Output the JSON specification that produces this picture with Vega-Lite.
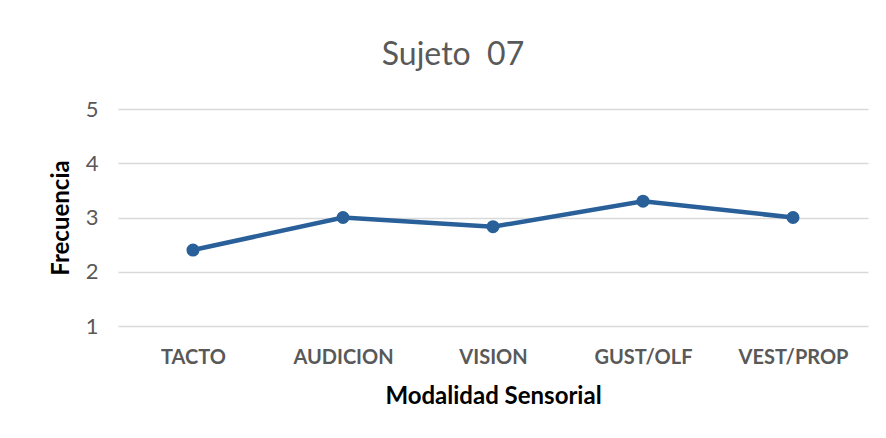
{
  "$schema": "https://vega.github.io/schema/vega-lite/v6.json",
  "autosize": {"type": "none"},
  "padding": {"left": 118, "top": 109, "right": 18, "bottom": 112},
  "width": 750,
  "height": 217,
  "background": "white",
  "title": {
    "text": "Sujeto \u00a007",
    "font": "Lato",
    "fontSize": 32,
    "fontWeight": "normal",
    "color": "#595959",
    "anchor": "middle",
    "frame": "group",
    "dx": -40,
    "offset": 26
  },
  "data": {
    "values": [
      {"modalidad": "TACTO", "frecuencia": 2.4},
      {"modalidad": "AUDICION", "frecuencia": 3.0},
      {"modalidad": "VISION", "frecuencia": 2.83},
      {"modalidad": "GUST/OLF", "frecuencia": 3.3},
      {"modalidad": "VEST/PROP", "frecuencia": 3.0}
    ]
  },
  "config": {
    "view": {"stroke": null},
    "axis": {"labelFont": "Lato", "titleFont": "Lato"}
  },
  "encoding": {
    "x": {
      "field": "modalidad",
      "type": "nominal",
      "sort": null,
      "scale": {"paddingInner": 0, "paddingOuter": 0.5},
      "axis": {
        "title": "Modalidad Sensorial",
        "titleFontSize": 24,
        "titleFontWeight": "bold",
        "titleColor": "#000000",
        "titlePadding": 17,
        "labelAngle": 0,
        "labelFontSize": 20,
        "labelFontWeight": "bold",
        "labelColor": "#595959",
        "labelPadding": 21,
        "ticks": false,
        "domain": false,
        "grid": false
      }
    },
    "y": {
      "field": "frecuencia",
      "type": "quantitative",
      "scale": {"domain": [1, 5], "nice": false, "zero": false},
      "axis": {
        "title": "Frecuencia",
        "titleFontSize": 24,
        "titleFontWeight": "bold",
        "titleColor": "#000000",
        "titlePadding": 12,
        "values": [1, 2, 3, 4, 5],
        "labelFontSize": 22,
        "labelColor": "#595959",
        "labelPadding": 20,
        "ticks": false,
        "domain": false,
        "grid": true,
        "gridColor": "#D9D9D9",
        "gridWidth": 1.5
      }
    }
  },
  "layer": [
    {"mark": {"type": "line", "color": "#2A6099", "strokeWidth": 4.5}},
    {"mark": {"type": "point", "filled": true, "color": "#2A6099", "size": 170, "opacity": 1}}
  ]
}
